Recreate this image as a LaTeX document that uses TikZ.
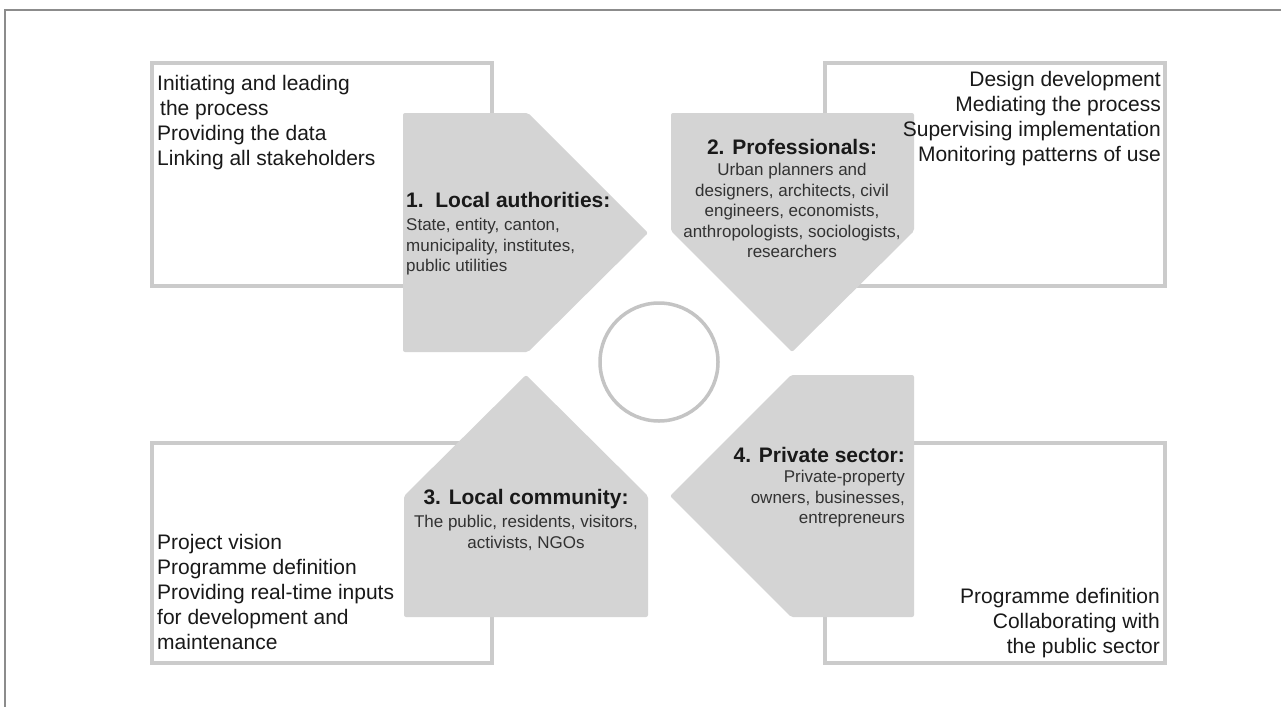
\documentclass[tikz,border=0pt]{standalone}
\usepackage{fontspec}
\setmainfont{Liberation Sans}
\definecolor{boxgray}{RGB}{203,203,203}
\definecolor{pentgray}{RGB}{212,212,212}
\definecolor{circgray}{RGB}{196,196,196}
\definecolor{framegray}{RGB}{140,140,140}
\definecolor{textdark}{RGB}{25,25,25}
\definecolor{subgray}{RGB}{50,50,50}
\begin{document}
\begin{tikzpicture}[x=1pt,y=-1pt,
  box/.style={draw=boxgray,line width=3.5pt},
  penta/.style={fill=pentgray,draw=none,rounded corners=2pt},
  boxtext/.style={inner sep=0pt,font=\fontsize{21}{25}\selectfont,text=textdark},
  ttl/.style={inner sep=0pt,font=\fontsize{21}{25}\selectfont\bfseries,text=textdark},
  sub/.style={inner sep=0pt,font=\fontsize{17}{20.5}\selectfont,text=subgray}]
\useasboundingbox (0,0) rectangle (1281,707);
\fill[white] (0,0) rectangle (1281,707);
% frame
\draw[framegray,line width=1.5pt] (1281,10) -- (5,10) -- (5,707);
% outline boxes
\draw[box] (152,63) rectangle (492,286);
\draw[box] (825,63) rectangle (1165,286);
\draw[box] (152,443) rectangle (492,663);
\draw[box] (825,443) rectangle (1165,663);
% pentagons
\fill[penta] (403,113) -- (528,113) -- (648,233) -- (528,352) -- (403,352) -- cycle;
\fill[penta] (671,113) -- (914,113) -- (914,231) -- (792,352) -- (671,231) -- cycle;
\fill[penta] (404,617) -- (404,496) -- (526,375) -- (648,496) -- (648,617) -- cycle;
\fill[penta] (914,375) -- (914,617) -- (791,617) -- (670,496) -- (791,375) -- cycle;
% circle
\draw[circgray,line width=3.5pt] (659,362) circle[radius=59];
% box texts
\node[boxtext,align=left,anchor=north west] (t1) at (157,75)
  {Initiating and leading\\\hspace*{3pt}the process\\Providing the data\\Linking all stakeholders};
\node[boxtext,align=right,anchor=north east] (t2) at (1161,71)
  {Design development\\Mediating the process\\Supervising implementation\\Monitoring patterns of use};
\node[boxtext,align=left,anchor=north west] (t3) at (157,534)
  {Project vision\\Programme definition\\Providing real-time inputs\\for development and\\maintenance};
\node[boxtext,align=right,anchor=north east] (t4) at (1160,588)
  {Programme definition\\Collaborating with\\the public sector};
% pentagon texts
\node[ttl,anchor=base west] (h1) at (406,207) {1.\ \ Local authorities:};
\node[sub,align=left,anchor=north west] (s1) at (406,218)
  {State, entity, canton,\\municipality, institutes,\\public utilities};
\node[ttl,anchor=base] (h2) at (792,154) {2. Professionals:};
\node[sub,align=center,anchor=north] (s2) at (792,163)
  {Urban planners and\\designers, architects, civil\\engineers, economists,\\anthropologists, sociologists,\\researchers};
\node[ttl,anchor=base] (h3) at (526,504) {3. Local community:};
\node[sub,align=center,anchor=north] (s3) at (526,515)
  {The public, residents, visitors,\\activists, NGOs};
\node[ttl,anchor=base east] (h4) at (905,462) {4. Private sector:};
\node[sub,align=right,anchor=north east] (s4) at (905,470)
  {Private-property\\owners, businesses,\\entrepreneurs};
\end{tikzpicture}
\end{document}
